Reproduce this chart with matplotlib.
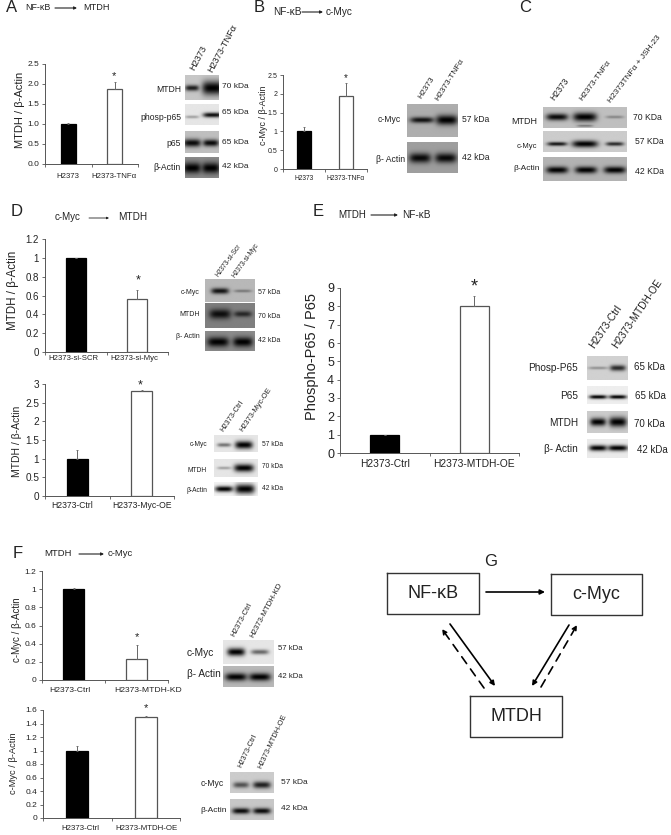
import numpy as np
import matplotlib
matplotlib.use('Agg')
import matplotlib.pyplot as plt

W, H = 671, 835
plt.rcParams['font.family'] = 'Liberation Sans'

# bar chart values
a_labels = ['H2373', 'H2373-TNFα']
a_values = [1.0, 1.87]
a_errors = [0.03, 0.18]
b_labels = ['H2373', 'H2373-TNFα']
b_values = [1.0, 1.95]
b_errors = [0.12, 0.33]
d1_labels = ['H2373-si-SCR', 'H2373-si-Myc']
d1_values = [1.0, 0.56]
d1_errors = [0.0, 0.10]
d2_labels = ['H2373-Ctrl', 'H2373-Myc-OE']
d2_values = [1.0, 2.8]
d2_errors = [0.23, 0.05]
e_labels = ['H2373-Ctrl', 'H2373-MTDH-OE']
e_values = [1.0, 8.0]
e_errors = [0.0, 0.56]
f1_labels = ['H2373-Ctrl', 'H2373-MTDH-KD']
f1_values = [1.0, 0.23]
f1_errors = [0.01, 0.16]
f2_labels = ['H2373-Ctrl', 'H2373-MTDH-OE']
f2_values = [1.0, 1.49]
f2_errors = [0.07, 0.02]

fig = plt.figure(figsize=(W / 100, H / 100), dpi=100)
over = fig.add_axes([0, 0, 1, 1], zorder=5)
over.patch.set_alpha(0)
over.axis('off')


def txt(x, y, s, size=7, ha='left', va='center', rot=0, color='#222222'):
    over.text(x, y, s, fontsize=size, ha=ha, va=va, rotation=rot, rotation_mode='anchor',
              color=color)


def arrow(x0, y0, x1, y1, lw=1.0, ls='-', scale=6, color='#222222'):
    over.annotate('', xy=(x1, y1), xytext=(x0, y0),
                  arrowprops=dict(arrowstyle='-|>', lw=lw, ls=ls, color=color,
                                  mutation_scale=scale, shrinkA=0, shrinkB=0))


def bars(box, ymax, yticks, ticklabels, labels, values, errors, ylabel, ylab_xy,
         tick_size, lab_size, ylab_size, label_y, label_xs, star_xy, star_size=8, width=0.32):
    x0, x1, ytop, y0 = box
    ax = fig.add_axes([x0 / W, 1 - y0 / H, (x1 - x0) / W, (y0 - ytop) / H])
    ax.patch.set_alpha(0)
    ax.bar([0, 1], values, width=width, color=['black', 'white'],
           edgecolor=['black', '#555555'], linewidth=0.9)
    ax.errorbar([0, 1], values, yerr=[[0, 0], errors], fmt='none', ecolor='#666666',
                elinewidth=0.7, capsize=1, capthick=0.6)
    ax.set_xlim(-0.5, 1.5)
    ax.set_ylim(0, ymax)
    ax.set_xticks([-0.5, 0.5, 1.5])
    ax.set_xticklabels([])
    ax.set_yticks(yticks)
    ax.set_yticklabels(ticklabels, fontsize=tick_size, color='#222222')
    ax.tick_params(length=2.2, width=0.6, color='#555555', pad=2)
    for s in ['top', 'right']:
        ax.spines[s].set_visible(False)
    for s in ['left', 'bottom']:
        ax.spines[s].set_linewidth(0.7)
        ax.spines[s].set_color('#555555')
    for x, lab in zip(label_xs, labels):
        txt(x, label_y, lab, size=lab_size, ha='center')
    txt(ylab_xy[0], ylab_xy[1], ylabel, size=ylab_size, ha='center', rot=90)
    txt(star_xy[0], star_xy[1], '*', size=star_size, ha='center')


def blot(box, bg, bands):
    # bands: centre x, centre y, half width, half height, darkness
    x0, y0, x1, y1 = box
    xs, ys = np.meshgrid(np.arange(x0, x1 + 0.5, 0.5), np.arange(y0, y1 + 0.5, 0.5))
    img = np.full(xs.shape, bg, dtype=float)
    for cx, cy, hw, hh, dark in bands:
        b = np.exp(-(np.abs(xs - cx) / hw) ** 4 - (np.abs(ys - cy) / hh) ** 2)
        img = img * (1 - dark * b)
    over.imshow(img, extent=(x0, x1, y1, y0), cmap='gray', vmin=0, vmax=1,
                aspect='auto', interpolation='bilinear')


# bar panels
bars((45, 138, 64, 164), 2.5, [0, .5, 1, 1.5, 2, 2.5], ['0.0', '0.5', '1.0', '1.5', '2.0', '2.5'],
     a_labels, a_values, a_errors, 'MTDH / β-Actin', (20, 110), 6, 5.6, 8, 177, (68, 114), (114, 76))
bars((283, 367, 75, 169), 2.5, [0, .5, 1, 1.5, 2, 2.5], ['0', '0.5', '1', '1.5', '2', '2.5'],
     b_labels, b_values, b_errors, 'c-Myc / β-Actin', (263, 115), 5, 4.8, 6.4, 179, (304, 346), (346, 78), 7)
bars((45, 168, 239, 352), 1.2, [0, .2, .4, .6, .8, 1, 1.2], ['0', '0.2', '0.4', '0.6', '0.8', '1', '1.2'],
     d1_labels, d1_values, d1_errors, 'MTDH / β-Actin', (13, 290), 7, 5.6, 8.3, 359, (73, 134), (138, 280), 9)
bars((45, 174, 384, 496), 3, [0, .5, 1, 1.5, 2, 2.5, 3], ['0', '0.5', '1', '1.5', '2', '2.5', '3'],
     d2_labels, d2_values, d2_errors, 'MTDH / β-Actin', (17, 441), 7.2, 6.2, 7.5, 506, (72, 142), (140, 385), 9)
bars((340, 519, 288, 453), 9, list(range(10)), [str(i) for i in range(10)],
     e_labels, e_values, e_errors, 'Phospho-P65 / P65', (312, 357), 9, 7.4, 10.5, 464, (385, 474), (474, 287), 13)
bars((42, 168, 571, 680), 1.2, [0, .2, .4, .6, .8, 1, 1.2], ['0', '0.2', '0.4', '0.6', '0.8', '1', '1.2'],
     f1_labels, f1_values, f1_errors, 'c-Myc / β-Actin', (17, 630), 6, 6.1, 7, 690, (70, 148), (137, 637), 8)
bars((43, 180, 710, 818), 1.6, [0, .2, .4, .6, .8, 1, 1.2, 1.4, 1.6],
     ['0', '0.2', '0.4', '0.6', '0.8', '1', '1.2', '1.4', '1.6'],
     f2_labels, f2_values, f2_errors, 'c-Myc / β-Actin', (14, 763), 6, 5.7, 6.7, 829, (80, 146), (146, 708), 8)

# panel A blots
blot((185, 75, 219, 100), .78, [(192, 88, 7, 3, .85), (213, 88, 11, 7, 1)])
blot((185, 104, 219, 125), .9, [(192, 117, 7, 1.5, .3), (213, 115, 10, 2.5, .95)])
blot((185, 131, 219, 153), .75, [(192, 143, 9, 4, .95), (211, 143, 8, 3.5, .95)])
blot((185, 157, 219, 178), .55, [(192, 168, 9, 5.5, 1), (211, 168, 9, 5.5, 1)])
for y, s in zip([90, 117, 143, 168], ['MTDH', 'phosp-p65', 'p65', 'β-Actin']):
    txt(181, y, s, 6.2, ha='right')
for y, s in zip([86, 113, 143, 166], ['70 kDa', '65 kDa', '65 kDa', '42 kDa']):
    txt(222, y, s, 6)
txt(192, 70, 'H2373', 6.6, rot=62)
txt(210, 72, 'H2373-TNFα', 6.6, rot=62)

# panel B blots
blot((407, 104, 458, 137), .68, [(422, 120, 12, 3, .9), (447, 120, 11, 5, 1)])
blot((407, 142, 458, 173), .62, [(420, 158, 11, 5, .95), (446, 158, 11, 5, .95)])
txt(401, 119, 'c-Myc', 6.2, ha='right')
txt(405, 159, 'β- Actin', 6.2, ha='right')
txt(462, 119, '57 kDa', 6.2)
txt(462, 158, '42 kDa', 6.2)
txt(420, 98, 'H2373', 6, rot=58)
txt(437, 100, 'H2373-TNFα', 6, rot=58)

# panel C blots
blot((543, 107, 627, 128), .75, [(557, 117, 11, 3.5, .95), (585, 117, 12, 4.5, 1),
                                 (615, 117, 9, 1.5, .3), (585, 126, 8, 1, .4)])
blot((543, 131, 627, 152), .8, [(557, 144, 10, 2, .9), (585, 144, 13, 3.5, 1), (615, 144, 9, 2, .8)])
blot((543, 157, 627, 181), .7, [(557, 170, 11, 3.5, 1), (586, 170, 11, 3.5, 1), (615, 170, 11, 3.5, 1)])
txt(537, 121, 'MTDH', 6.5, ha='right')
txt(537, 147, 'c-Myc', 5.5, ha='right')
txt(540, 168, 'β-Actin', 6, ha='right')
txt(633, 117, '70 KDa', 6.2)
txt(635, 142, '57 KDa', 6.2)
txt(635, 171, '42 KDa', 6.2)
txt(552, 100, 'H2373', 6.2, rot=54)
txt(581, 100, 'H2373-TNFα', 6, rot=54)
txt(610, 102, 'H2373TNFα + JSH-23', 6, rot=53)

# panel D blots
blot((205, 279, 255, 302), .72, [(220, 291, 9, 3, .9), (243, 291, 9, 1.5, .35)])
blot((205, 303, 255, 328), .5, [(220, 314, 11, 5, .9), (243, 314, 9, 3, .7)])
blot((205, 331, 255, 351), .55, [(218, 342, 11, 5, 1), (243, 342, 10, 5, 1)])
for y, s in zip([292, 315, 337], ['c-Myc', 'MTDH', 'β- Actin']):
    txt(200, y, s, 5, ha='right')
for y, s in zip([293, 317, 340], ['57 kDa', '70 kDa', '42 kDa']):
    txt(258, y, s, 5)
txt(217, 276, 'H2373-si-Scr', 4.8, rot=54)
txt(234, 277, 'H2373-si-Myc', 4.8, rot=54)

blot((214, 435, 258, 452), .9, [(224, 445, 7, 2, .5), (244, 445, 9, 4, 1)])
blot((214, 459, 258, 477), .9, [(224, 468, 7, 1.5, .3), (244, 468, 10, 4, 1)])
blot((214, 482, 258, 496), .95, [(224, 489, 9, 3, 1), (245, 489, 10, 5, 1)])
for y, s in zip([444, 470, 490], ['c-Myc', 'MTDH', 'β-Actin']):
    txt(207, y, s, 4.8, ha='right')
for y, s in zip([444, 467, 489], ['57 kDa', '70 kDa', '42 kDa']):
    txt(262, y, s, 4.8)
txt(222, 431, 'H2373-Ctrl', 5.4, rot=56)
txt(241, 431, 'H2373-Myc-OE', 5.4, rot=56)

# panel E blots
blot((587, 356, 628, 380), .82, [(598, 368, 10, 1.5, .3), (618, 368, 8, 3, .8)])
blot((587, 386, 628, 404), .93, [(598, 397, 9, 2, 1), (618, 397, 9, 2, 1)])
blot((587, 411, 628, 433), .8, [(598, 422, 8, 4, 1), (618, 422, 9, 5, 1)])
blot((587, 439, 628, 458), .92, [(598, 448, 9, 3, 1), (618, 448, 10, 3, 1)])
for y, s in zip([368, 396, 423, 449], ['Phosp-P65', 'P65', 'MTDH', 'β- Actin']):
    txt(578, y, s, 7.2, ha='right')
for x, y, s in zip([634, 635, 634, 637], [367, 396, 424, 450], ['65 kDa', '65 kDa', '70 kDa', '42 kDa']):
    txt(x, y, s, 7)
txt(592, 347, 'H2373-Ctrl', 7.4, rot=56)
txt(615, 347, 'H2373-MTDH-OE', 7.3, rot=56)

# panel F blots
blot((223, 640, 274, 664), .9, [(236, 652, 9, 4, 1), (260, 652, 9, 2.5, .55)])
blot((223, 666, 274, 687), .72, [(236, 677, 11, 4, 1), (260, 677, 11, 4, 1)])
txt(214, 653, 'c-Myc', 7.4, ha='right')
txt(221, 674, 'β- Actin', 7.2, ha='right')
txt(278, 649, '57 kDa', 5.6)
txt(278, 677, '42 kDa', 5.6)
txt(233, 636, 'H2373-Ctrl', 5.6, rot=62)
txt(252, 637, 'H2373-MTDH-KD', 5.6, rot=62)

blot((230, 772, 274, 793), .8, [(241, 785, 8, 3, .6), (262, 785, 9, 3.5, .85)])
blot((230, 799, 274, 820), .78, [(241, 811, 9, 3, .95), (262, 811, 9, 3, .95)])
txt(224, 783, 'c-Myc', 6.2, ha='right')
txt(227, 810, 'β-Actin', 6, ha='right')
txt(281, 783, '57 kDa', 6)
txt(281, 809, '42 kDa', 6)
txt(240, 767, 'H2373-Ctrl', 5.4, rot=65)
txt(260, 768, 'H2373-MTDH-OE', 5.4, rot=65)

# panel letters and arrow titles
for x, y, s in zip([6, 254, 519, 11, 313, 13, 484], [8, 7, 7, 212, 212, 553, 561], 'ABCDEFG'):
    txt(x, y, s, 12)

txt(25, 8, 'NF-κB', 6.4)
arrow(55, 8, 77, 8, lw=0.8, scale=4)
txt(83, 8, 'MTDH', 6.6)
txt(273, 12, 'NF-κB', 7.2)
arrow(302, 12, 323, 12, lw=0.8, scale=4)
txt(326, 12, 'c-Myc', 7.2)
txt(55, 217, 'c-Myc', 7)
arrow(89, 218, 109, 218, lw=0.6, scale=3)
txt(118, 217, 'MTDH', 7.2)
txt(338, 215, 'MTDH', 7)
arrow(371, 215, 398, 215, lw=0.8, scale=4)
txt(402, 215, 'NF-κB', 7.2)
txt(44, 554, 'MTDH', 6.8)
arrow(79, 554, 104, 554, lw=0.8, scale=4)
txt(108, 553, 'c-Myc', 6.8)

# panel G diagram
for (x0, y0, x1, y1), s in zip([(387, 573, 479, 614), (551, 574, 642, 615), (470, 696, 562, 737)],
                               ['NF-κB', 'c-Myc', 'MTDH']):
    over.plot([x0, x1, x1, x0, x0], [y0, y0, y1, y1, y0], color='#333333', lw=1)
    txt((x0 + x1) / 2, (y0 + y1) / 2, s, 13, ha='center')
arrow(486, 592, 545, 592, lw=1.2, scale=7, color='black')
arrow(450, 624, 495, 686, lw=1.2, scale=7, color='black')
arrow(569, 625, 532, 686, lw=1.2, scale=7, color='black')
arrow(484, 688, 442, 629, lw=1.2, ls=(0, (5, 4)), scale=7, color='black')
arrow(541, 687, 577, 625, lw=1.2, ls=(0, (5, 4)), scale=7, color='black')

over.set_xlim(0, W)
over.set_ylim(H, 0)
fig.savefig('out.png', dpi=100)
